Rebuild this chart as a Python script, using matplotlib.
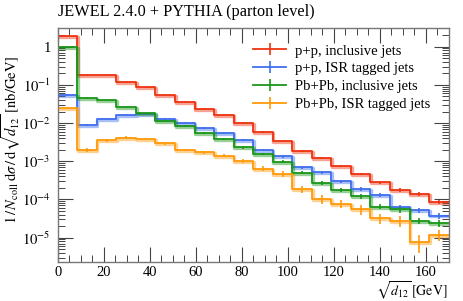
import numpy as np
import matplotlib
matplotlib.use("Agg")
import matplotlib.pyplot as plt
import matplotlib.patheffects as pe
from matplotlib.lines import Line2D
from matplotlib.ticker import FixedLocator, LogLocator, FuncFormatter, MultipleLocator

# ---------------- data ----------------
bin_edges = np.linspace(0, 170, 21)

pp_incl = [1.9, 0.176, 0.176, 0.1215, 0.0864, 0.0555, 0.0364, 0.0239, 0.016, 0.0101,
           0.00575, 0.00333, 0.0019, 0.00122, 0.00076, 0.000466, 0.000282, 0.000177, 0.000142, 8.4e-5]
pp_isr = [0.055, 0.00875, 0.0131, 0.0166, 0.0173, 0.0126, 0.0103, 0.00745, 0.0054, 0.00365,
          0.00201, 0.00135, 0.000695, 0.000514, 0.0003, 0.000188, 0.000131, 6.4e-5, 5.2e-5, 3.8e-5]
pbpb_incl = [1.0, 0.0463, 0.0394, 0.0269, 0.018, 0.0116, 0.0084, 0.0056, 0.0039, 0.0023,
             0.00158, 0.00098, 0.000504, 0.00027, 0.000181, 0.000121, 6.5e-5, 5.5e-5, 2.8e-5, 2.4e-5]
pbpb_isr = [0.0253, 0.00198, 0.00354, 0.00416, 0.0038, 0.00295, 0.00198, 0.00175, 0.0014, 0.00102,
            0.00064, 0.000465, 0.000185, 0.000103, 7.8e-5, 5.6e-5, 3.3e-5, 2.8e-5, 7.9e-6, 1.2e-5]

# relative uncertainties
pp_incl_err = [0.01, 0.03, 0.03, 0.03, 0.03, 0.03, 0.03, 0.03, 0.04, 0.04,
               0.05, 0.05, 0.06, 0.06, 0.07, 0.08, 0.1, 0.1, 0.12, 0.12]
pp_isr_err = [0.04, 0.05, 0.05, 0.04, 0.04, 0.05, 0.05, 0.05, 0.06, 0.07,
              0.07, 0.08, 0.09, 0.1, 0.1, 0.12, 0.12, 0.15, 0.15, 0.18]
pbpb_incl_err = [0.01, 0.04, 0.04, 0.04, 0.05, 0.05, 0.06, 0.06, 0.06, 0.07,
                 0.07, 0.08, 0.1, 0.12, 0.12, 0.15, 0.15, 0.18, 0.2, 0.2]
pbpb_isr_err = [0.06, 0.1, 0.08, 0.08, 0.07, 0.07, 0.08, 0.09, 0.1, 0.12,
                0.15, 0.18, 0.22, 0.25, 0.25, 0.28, 0.3, 0.3, 0.5, 0.33]

labels = ["p+p, inclusive jets", "p+p, ISR tagged jets",
          "Pb+Pb, inclusive jets", "Pb+Pb, ISR tagged jets"]
title = "JEWEL 2.4.0 + PYTHIA (parton level)"

series = [pp_incl, pp_isr, pbpb_incl, pbpb_isr]
errors = [pp_incl_err, pp_isr_err, pbpb_incl_err, pbpb_isr_err]
colors = ["#EE3311", "#3F6FEE", "#1A961A", "#FF9A0A"]

# ---------------- style ----------------
plt.rcParams['font.family'] = ['Liberation Serif', 'DejaVu Serif']
plt.rcParams['mathtext.fontset'] = 'stix'

W, H = 463, 301
fig = plt.figure(figsize=(W / 100, H / 100), dpi=100)
ax = fig.add_axes([57.7 / W, 1 - 261.7 / H, (448.7 - 57.7) / W, (261.7 - 28) / H])

centers = 0.5 * (bin_edges[:-1] + bin_edges[1:])
for vals, rel, c in zip(series, errors, colors):
    v = np.asarray(vals)
    yv = np.append(v, v[-1])
    ax.step(bin_edges, yv, where='post', color=c, lw=1.3,
            path_effects=[pe.SimpleLineShadow(offset=(0.5, -0.7), shadow_color=c,
                                              alpha=0.45, linewidth=2.4),
                          pe.Normal()])
    ax.errorbar(centers, v, yerr=v * np.asarray(rel), fmt='none', ecolor=c,
                elinewidth=1.2, capsize=0)

ax.set_yscale('log')
ax.set_xlim(0, 170)
ax.set_ylim(2.35e-6, 3.08)

# ticks
ax.xaxis.set_major_locator(MultipleLocator(20))
ax.xaxis.set_minor_locator(MultipleLocator(5))
ax.yaxis.set_major_locator(FixedLocator([1e-5, 1e-4, 1e-3, 1e-2, 1e-1, 1]))
ax.yaxis.set_minor_locator(LogLocator(base=10, subs=np.arange(2, 10), numticks=20))


def yfmt(v, pos):
    e = int(round(np.log10(v)))
    if e == 0:
        return "1"
    return r"$10^{%d}$" % e


ax.yaxis.set_major_formatter(FuncFormatter(yfmt))
ax.yaxis.set_minor_formatter(FuncFormatter(lambda v, p: ""))

ax.tick_params(which='both', direction='in', top=True, right=True, color='#444444')
ax.tick_params(which='major', length=11, width=0.8, labelsize=10.5, pad=5)
ax.tick_params(axis='x', which='major', pad=3)
ax.tick_params(which='minor', length=5, width=0.7)
for s in ax.spines.values():
    s.set_color('#777777')
    s.set_linewidth(1.0)

fig.text(11 / W, 1 - 140 / H,
         r"$1\,/\,N_{\mathrm{coll}}\;\mathrm{d}\sigma\,/\,\mathrm{d}\sqrt{d_{12}}\;[\mathrm{nb/GeV}]$",
         fontsize=10.5, rotation=90, ha='center', va='center')
fig.text(447 / W, 1 - 296.5 / H, r"$\sqrt{d_{12}}\,[\mathrm{GeV}]$",
         fontsize=10, ha='right', va='baseline')

fig.text(57.7 / W, 1 - 12 / H, title, fontsize=11.7, ha='left', va='center')

handles = [Line2D([0], [0], color=c, lw=1.3, marker='|', markersize=9, markeredgewidth=1.2)
           for c in colors]
ax.legend(handles, labels, loc='upper left', bbox_to_anchor=((247 - 57.7) / 391, 0.955),
          frameon=False, fontsize=10.5, handlelength=2.3, handletextpad=0.6,
          labelspacing=0.32, borderaxespad=0.0)

fig.savefig("out.png", dpi=100)
